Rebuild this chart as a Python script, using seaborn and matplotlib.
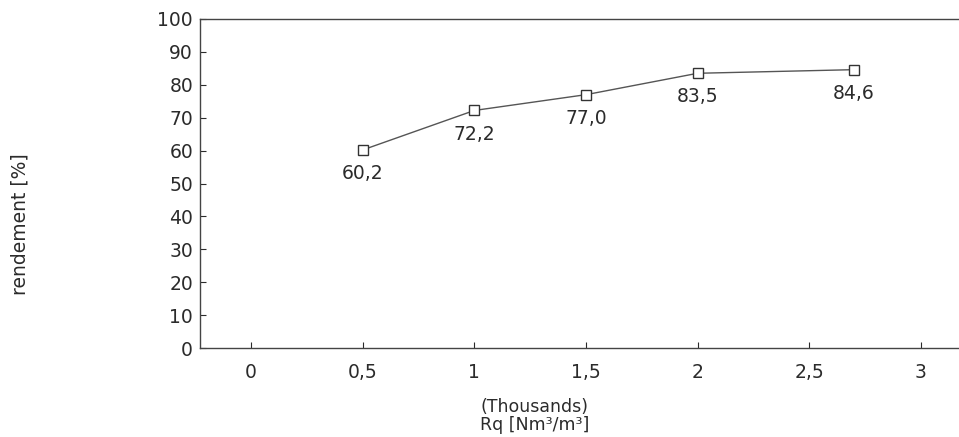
import matplotlib
matplotlib.use("Agg")
import matplotlib.pyplot as plt
import seaborn as sns
import pandas as pd

# Yield versus specific gas flow
rq_thousands = [0.5, 1.0, 1.5, 2.0, 2.7]
rendement = [60.2, 72.2, 77.0, 83.5, 84.6]
x_ticks = [0, 0.5, 1, 1.5, 2, 2.5, 3]
x_tick_labels = ["0", "0,5", "1", "1,5", "2", "2,5", "3"]
y_ticks = list(range(0, 101, 10))

sns.set_theme(style="white")
plt.rcParams["font.family"] = ["DejaVu Sans"]

ink = "#2b2b2b"
df = pd.DataFrame({"rq": rq_thousands, "rendement": rendement})

W, H = 959, 437
fig = plt.figure(figsize=(W / 100, H / 100), dpi=100)
ax = fig.add_axes([200 / W, 1 - 348 / H, 762 / W, 329 / H])

sns.lineplot(data=df, x="rq", y="rendement", ax=ax, color="#555555",
             linewidth=1.0, marker="s", markersize=7.5,
             markerfacecolor="white", markeredgecolor="#333333",
             markeredgewidth=1.0)

for xv, yv in zip(rq_thousands, rendement):
    ax.annotate(f"{yv:.1f}".replace(".", ","), (xv, yv),
                xytext=(0, -17), textcoords="offset points",
                ha="center", va="center", fontsize=13.5, color=ink)

ax.set_xlim(-0.2284, 3.184)
ax.set_ylim(0, 100)
ax.set_xticks(x_ticks)
ax.set_xticklabels(x_tick_labels)
ax.set_yticks(y_ticks)
ax.set_xlabel("")
ax.set_ylabel("")
ax.tick_params(axis="x", direction="in", length=4, width=0.8, pad=11,
               labelsize=13.5, colors=ink, bottom=True)
ax.tick_params(axis="y", direction="in", length=4, width=0.8, pad=5,
               labelsize=13.5, colors=ink, left=True)

for side in ["left", "bottom", "top", "right"]:
    ax.spines[side].set_color("#444444")
    ax.spines[side].set_linewidth(1.0)

# Two-line axis title, tightly stacked
fig.text(535 / W, 1 - 416 / H, "(Thousands)\nRq [Nm³/m³]", ha="center",
         va="center", multialignment="center", linespacing=0.95,
         fontsize=12.5, color=ink)
fig.text(20 / W, 1 - 224 / H, "rendement [%]", rotation=90,
         ha="center", va="center", fontsize=13.5, color=ink)

fig.savefig("out.png", dpi=100)
